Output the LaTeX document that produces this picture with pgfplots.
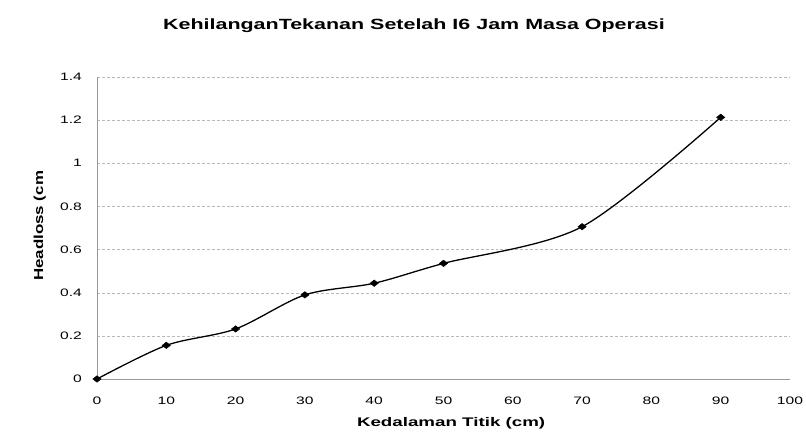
\documentclass[border=0pt]{standalone}
\usepackage{fontspec}
\setmainfont{Liberation Sans}
\newfontfamily\tickfont[FakeStretch=1.45]{Liberation Sans}
\newfontfamily\titlefont[FakeStretch=1.45]{Liberation Sans}
\newfontfamily\xlabfont[FakeStretch=1.5]{Liberation Sans}
\newfontfamily\ylabfont[FakeStretch=1.3]{Liberation Sans}
\usepackage{pgfplots}
\pgfplotsset{compat=1.18}
\begin{document}
\begin{tikzpicture}
\useasboundingbox (0,0) rectangle (806bp,444bp);
\begin{axis}[
  at={(97bp,65bp)}, anchor=south west,
  scale only axis, width=693bp, height=302bp,
  xmin=0, xmax=100, ymin=0, ymax=1.4,
  xtick={0,10,...,100}, ytick={0,0.2,0.4,0.6,0.8,1,1.2,1.4},
  yticklabels={0,0.2,0.4,0.6,0.8,1,1.2,1.4},
  axis lines=left,
  axis line style={-, draw=gray!80, line width=0.6pt},
  major tick length=0pt,
  ymajorgrids, grid style={densely dashed, gray!55, line width=0.4pt},
  /pgf/number format/assume math mode=true,
  ticklabel style={font=\tickfont\fontsize{10.8bp}{12bp}\selectfont},
  xticklabel style={anchor=base, yshift=-25bp},
  yticklabel style={anchor=east, xshift=-11.6bp},
  title={KehilanganTekanan Setelah I6 Jam Masa Operasi},
  title style={at={(axis description cs:0.4574,1)}, anchor=base, yshift=42bp, font=\titlefont\fontsize{14.8bp}{16bp}\selectfont\bfseries},
  xlabel={Kedalaman Titik (cm)},
  xlabel style={at={(axis description cs:0.511,-0.158)}, anchor=base, font=\xlabfont\fontsize{12.5bp}{14bp}\selectfont\bfseries},
  ylabel={Headloss (cm},
  ylabel style={at={(axis description cs:-0.0779,0.507)}, anchor=base, rotate=0, font=\ylabfont\fontsize{13bp}{15bp}\selectfont\bfseries},
  clip=false,
]
\addplot[black, line width=1.3pt, smooth, tension=0.5, mark=diamond*, mark size=3.8pt, mark options={solid, fill=black, xscale=1.45, yscale=0.85, line width=0.5pt}]
coordinates {(0,0) (10,0.156) (20,0.232) (30,0.39) (40,0.444) (50,0.536) (70,0.706) (90,1.213)};
\end{axis}
\end{tikzpicture}
\end{document}
